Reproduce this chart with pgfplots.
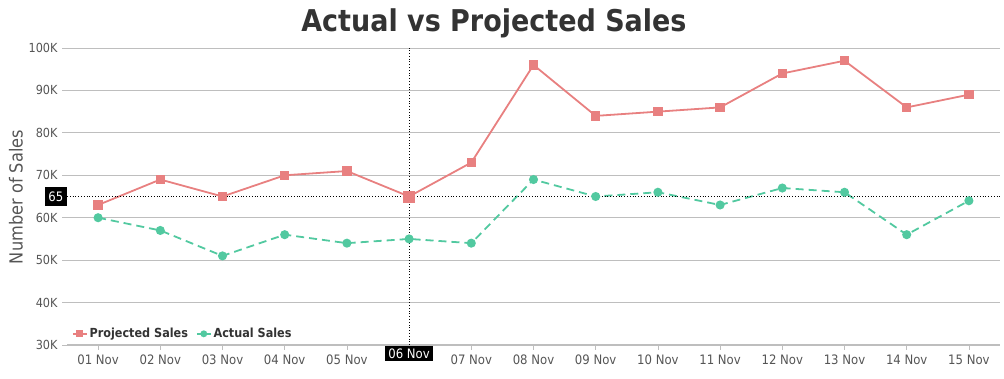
\documentclass[border=0pt]{standalone}
\usepackage{pgfplots}
\pgfplotsset{compat=1.18}
\usepackage{fontspec}
\setmainfont{DejaVu Sans Condensed}
\definecolor{proj}{RGB}{232,128,128}
\definecolor{act}{RGB}{82,201,160}
\definecolor{gridc}{RGB}{190,190,190}
\definecolor{tickc}{RGB}{85,85,85}
\definecolor{titlec}{RGB}{51,51,51}
\begin{document}
\begin{tikzpicture}
\path[use as bounding box] (0,0) rectangle (1004pt,379pt);
\begin{axis}[
  at={(67pt,34pt)}, anchor=south west,
  scale only axis, width=933pt, height=297pt,
  xmin=-0.5, xmax=14.5, ymin=30, ymax=100,
  xtick={0,...,14},
  xticklabels={01 Nov,02 Nov,03 Nov,04 Nov,05 Nov,{},07 Nov,08 Nov,09 Nov,10 Nov,11 Nov,12 Nov,13 Nov,14 Nov,15 Nov},
  ytick={30,40,...,100},
  yticklabels={30K,40K,50K,60K,70K,80K,90K,100K},
  ymajorgrids, grid style={gridc, line width=0.8pt},
  axis line style={draw=none},
  x axis line style={draw=gridc, line width=1pt},
  axis x line*=bottom, axis y line*=left,
  y axis line style={draw=none},
  tick align=outside, major tick length=5pt,
  tick style={gridc, line width=0.8pt},
  ticklabel style={font=\fontsize{12.5}{14}\selectfont, text=tickc},
  xticklabel style={yshift=-1pt, font=\fontsize{13}{15}\selectfont},
  yticklabel style={xshift=-1pt},
  legend style={at={(0.002,0.005)}, anchor=south west, draw=none, fill=none,
    font=\fontsize{12.5}{15}\selectfont\bfseries, text=titlec, legend columns=2,
    /tikz/every even column/.append style={column sep=6pt}},
  legend image code/.code={\draw[#1, solid, line width=1.5pt] (0pt,0pt) -- (14pt,0pt); \path[#1, solid, mark size=2.5pt] plot coordinates {(7pt,0pt)};},
  clip=false,
]
\addplot[proj, line width=1.8pt, mark=square*, mark size=3.8pt, mark options={solid}] coordinates {
(0,63) (1,69) (2,65) (3,70) (4,71) (5,65) (6,73) (7,96) (8,84) (9,85) (10,86) (11,94) (12,97) (13,86) (14,89)};
\addlegendentry{Projected Sales}
\addplot[act, line width=1.8pt, dash pattern=on 8pt off 5pt, mark=*, mark size=3.6pt, mark options={solid}] coordinates {
(0,60) (1,57) (2,51) (3,56) (4,54) (5,55) (6,54) (7,69) (8,65) (9,66) (10,63) (11,67) (12,66) (13,56) (14,64)};
\addlegendentry{Actual Sales}
\addplot[proj, only marks, mark=square*, mark size=5.5pt, forget plot] coordinates {(5,65)};
\draw[black, dotted, line width=0.8pt] (axis cs:5,30) -- (axis cs:5,100);
\draw[black, dotted, line width=0.8pt] (axis cs:-0.5,65) -- (axis cs:14.5,65);
\node[fill=black, text=white, anchor=east, inner xsep=3.5pt, inner ysep=5pt, font=\fontsize{13}{15}\selectfont] at (axis cs:-0.5,65) {65};
\node[fill=black, text=white, anchor=north, inner xsep=3pt, inner ysep=2.5pt, font=\fontsize{13}{15}\selectfont] at ([yshift=-1pt]axis cs:5,30) {06 Nov};
\end{axis}
\node[font=\fontsize{30}{35}\selectfont\bfseries, text=titlec] at (494pt,356pt) {Actual vs Projected Sales};
\node[font=\fontsize{18}{22}\selectfont, text=tickc, rotate=90] at (16pt,182pt) {Number of Sales};
\end{tikzpicture}
\end{document}
